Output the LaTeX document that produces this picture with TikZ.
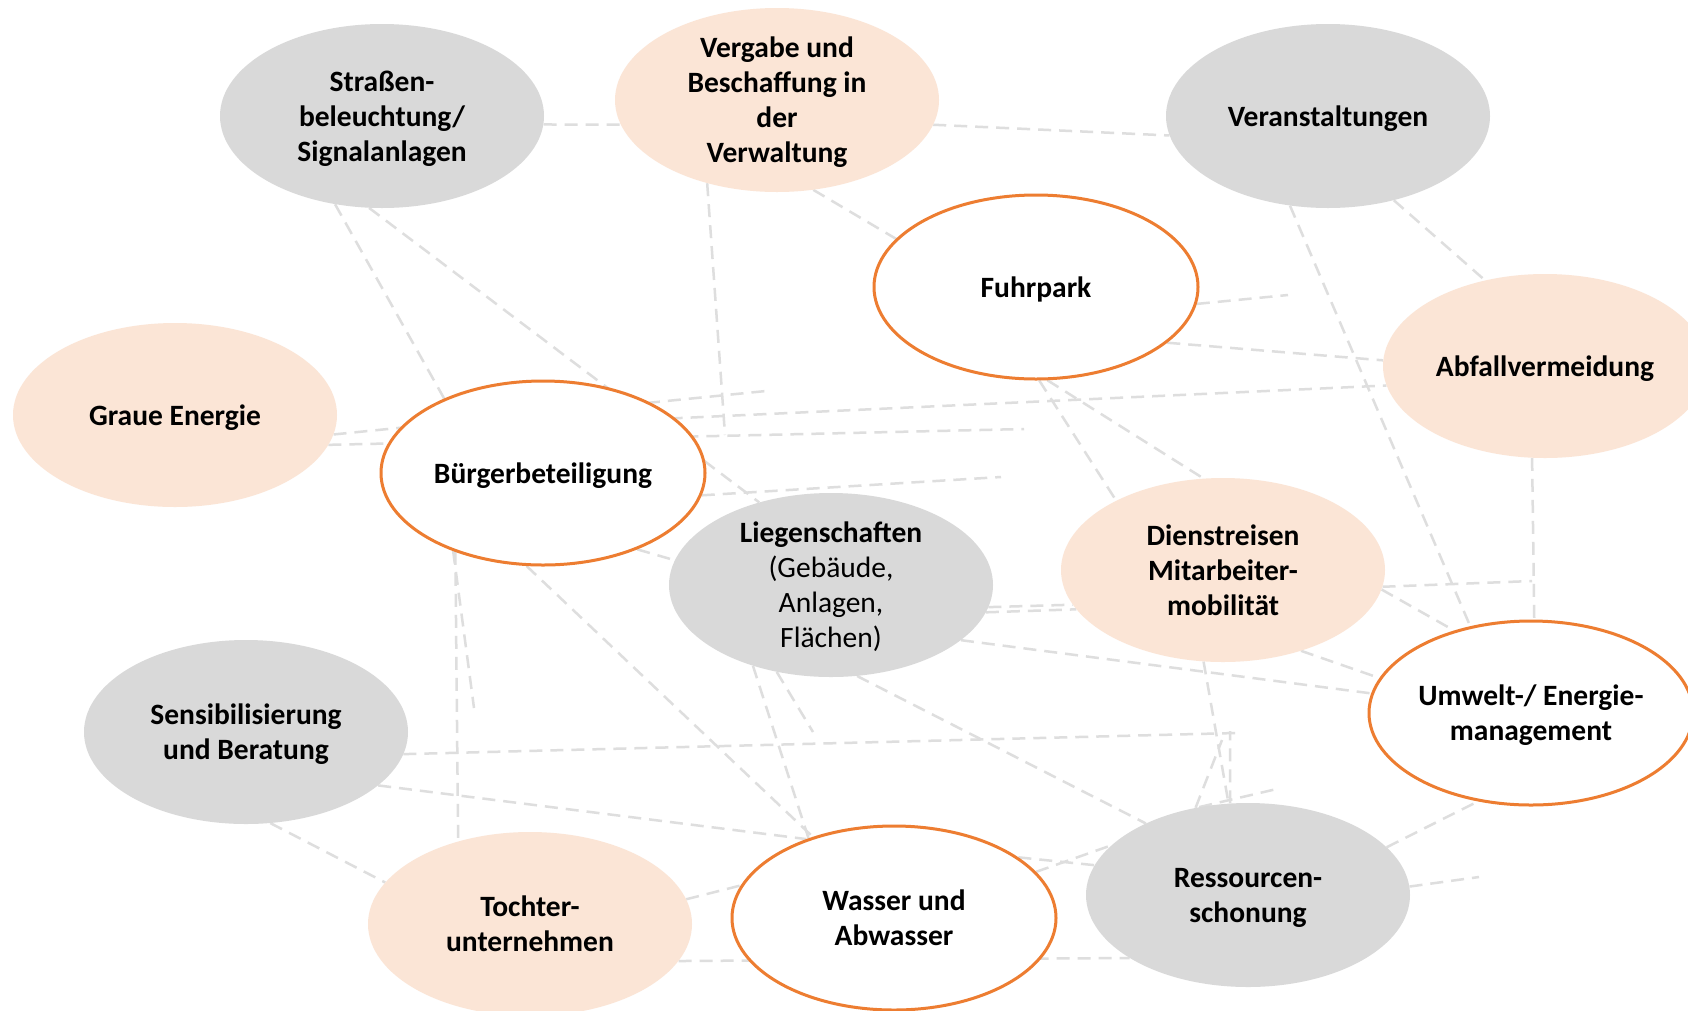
\documentclass[tikz,border=0pt]{standalone}
\usepackage{fontspec}
\setmainfont{Carlito}
\usetikzlibrary{shapes.geometric,backgrounds}
\definecolor{cgray}{HTML}{D9D9D9}
\definecolor{cpeach}{HTML}{FBE5D6}
\definecolor{corange}{HTML}{ED7D31}
\definecolor{clink}{HTML}{DEDEDE}
\newcommand\btx[1]{\raisebox{-3pt}[\height][\depth]{\begin{tabular}{@{}c@{}}#1\end{tabular}}}
\tikzset{
  bub/.style={ellipse, minimum width=324pt, minimum height=184pt, inner xsep=-20pt, inner ysep=-40pt, align=center,
    font=\bfseries\fontsize{29.5}{35}\selectfont},
  grayb/.style={bub, fill=cgray},
  peachb/.style={bub, fill=cpeach},
  ringb/.style={bub, fill=white, draw=corange, line width=3pt},
  link/.style={draw=clink, line width=2.5pt, dash pattern=on 13pt off 8pt}
}
\begin{document}
\begin{tikzpicture}[x=1pt,y=-1pt]
\useasboundingbox (0,0) rectangle (1688,1010);
\clip (0,0) rectangle (1688,1010);

% nodes
\node[grayb]  (strassen) at (382,116) {\btx{Straßen-\\beleuchtung/\\Signalanlagen}};
\node[peachb] (vergabe)  at (777,100) {\btx{Vergabe und\\Beschaffung in\\der\\Verwaltung}};
\node[grayb]  (veranst)  at (1328,116) {\btx{Veranstaltungen}};
\node[ringb]  (fuhrpark) at (1036,287) {\btx{Fuhrpark}};
\node[peachb] (abfall)   at (1545,366) {\btx{Abfallvermeidung}};
\node[peachb] (graue)    at (175,415) {\btx{Graue Energie}};
\node[ringb]  (buerger)  at (543,473) {\btx{Bürgerbeteiligung}};
\node[grayb, font=\fontsize{29.5}{35}\selectfont] (lieg) at (831,585) {\btx{\textbf{Liegenschaften}\\(Gebäude,\\Anlagen,\\Flächen)}};
\node[peachb] (dienst)   at (1223,570) {\btx{Dienstreisen\\Mitarbeiter-\\mobilität}};
\node[ringb]  (umwelt)   at (1531,713) {\btx{Umwelt-/ Energie-\\management}};
\node[grayb]  (sensib)   at (246,732) {\btx{Sensibilisierung\\und Beratung}};
\node[peachb] (tochter)  at (530,924) {\btx{Tochter-\\unternehmen}};
\node[ringb]  (wasser)   at (894,918) {\btx{Wasser und\\Abwasser}};
\node[grayb]  (ress)     at (1248,895) {\btx{Ressourcen-\\schonung}};

% free ends
\coordinate (e1) at (766,391);
\coordinate (e2) at (1024,429);
\coordinate (e3) at (725,435);
\coordinate (e4) at (1288,295);
\coordinate (e5) at (1532,581);
\coordinate (e6) at (1236,733);
\coordinate (e7) at (1230,731);
\coordinate (e8) at (1222,740);
\coordinate (e9) at (1281,788);
\coordinate (e10) at (1479,877);
\coordinate (e11) at (813,732);
\coordinate (e12) at (474,708);
\coordinate (e13) at (1001,477);

\begin{scope}[on background layer]
\fill[white] (0,0) rectangle (1688,1010);
\draw[link] (strassen.-3.5) -- (vergabe.189.2);
\draw[link] (vergabe.-9.9) -- (veranst.187.5);
\draw[link] (strassen.-118) -- (buerger.143.8);
\draw[link] (strassen.-98.5) -- (lieg.131.6);
\draw[link] (graue.-7.2) -- (e1);
\draw[link] (graue.-11.8) -- (e2);
\draw[link] (buerger.164.4) -- (abfall.187.2);
\draw[link] (vergabe.-130.8) -- (e3);
\draw[link] (vergabe.-68.7) -- (fuhrpark.161);
\draw[link] (fuhrpark.-88.2) -- (dienst.147.3);
\draw[link] (fuhrpark.-83.5) -- (dienst.102.9);
\draw[link] (fuhrpark.-6.1) -- (e4);
\draw[link] (fuhrpark.-23.1) -- (abfall.178.9);
\draw[link] (veranst.-113.1) -- (umwelt.125.5);
\draw[link] (veranst.-52.6) -- (abfall.125.8);
\draw[link] (abfall.-98.7) -- (umwelt.88.8);
\draw[link] (dienst.-6.4) -- (e5);
\draw[link] (dienst.-7.1) -- (umwelt.133.9);
\draw[link] (dienst.-46) -- (umwelt.167.3);
\draw[link] (lieg.-23.1) -- (umwelt.173.7);
\draw[link] (lieg.-10.5) -- (dienst.-165.4);
\draw[link] (lieg.-8) -- (dienst.-167);
\draw[link] (dienst.-102.1) -- (ress.102.9);
\draw[link] (sensib.-8.2) -- (e6);
\draw[link] (ress.101.1) -- (e7);
\draw[link] (ress.121.5) -- (e8);
\draw[link] (ress.119.5) -- (e9);
\draw[link] (ress.19.9) -- (umwelt.-121.7);
\draw[link] (ress.3.5) -- (e10);
\draw[link] (tochter.-14.7) -- (ress.-152.9);
\draw[link] (lieg.-74.2) -- (ress.145.3);
\draw[link] (wasser.26.4) -- (ress.169.4);
\draw[link] (wasser.18.9) -- (ress.160.7);
\draw[link] (lieg.-134.6) -- (wasser.137.6);
\draw[link] (lieg.-122.5) -- (e11);
\draw[link] (buerger.-100.5) -- (wasser.135);
\draw[link] (sensib.-22) -- (wasser.138);
\draw[link] (sensib.-75.5) -- (tochter.164.4);
\draw[link] (tochter.9.5) -- (wasser.168.5);
\draw[link] (buerger.-138.4) -- (tochter.131.4);
\draw[link] (buerger.-139.9) -- (e12);
\draw[link] (buerger.-39.5) -- (lieg.171.9);
\draw[link] (buerger.-8.7) -- (e13);
\end{scope}
\end{tikzpicture}
\end{document}
